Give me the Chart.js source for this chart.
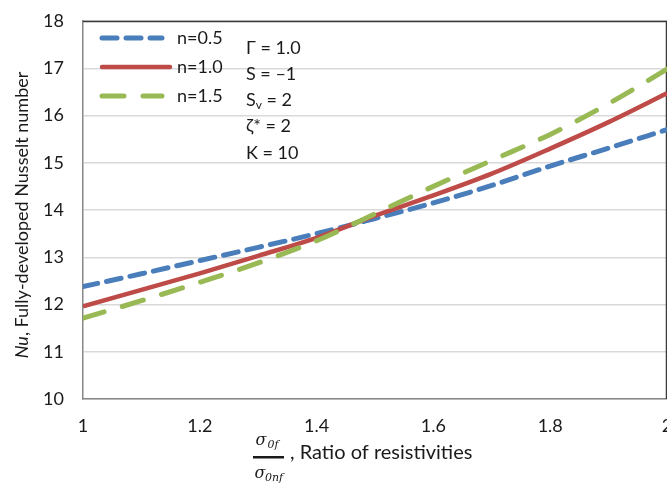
<!DOCTYPE html>
<html>
<head>
<meta charset="utf-8">
<script src="https://cdn.jsdelivr.net/npm/chart.js@4.4.1/dist/chart.umd.min.js"></script>
<style>
html,body{margin:0;padding:0;background:#fff;}
#wrap{width:667px;height:488px;position:relative;}
</style>
</head>
<body>
<div id="wrap"><canvas id="c" width="667" height="488"></canvas></div>
<script>
// ---- data ----
const ratio = [1.0, 1.1, 1.2, 1.3, 1.4, 1.5, 1.6, 1.7, 1.8, 1.9, 2.0];
const nu_n05 = [12.38, 12.65, 12.93, 13.21, 13.50, 13.82, 14.15, 14.52, 14.93, 15.31, 15.70];
const nu_n10 = [11.96, 12.31, 12.66, 13.03, 13.41, 13.88, 14.31, 14.77, 15.30, 15.86, 16.47];
const nu_n15 = [11.71, 12.08, 12.47, 12.88, 13.35, 13.92, 14.50, 15.05, 15.60, 16.25, 16.98];
const seriesLabels = ['n=0.5', 'n=1.0', 'n=1.5'];
const xTicks = [1, 1.2, 1.4, 1.6, 1.8, 2];
const yTicks = [10, 11, 12, 13, 14, 15, 16, 17, 18];
const paramLines = [['Γ = 1.0',''], ['S = –1',''], ['S','v',' = 2'], ['ζ* = 2',''], ['K = 10','']];

const FONT = 'Lato, "Open Sans", sans-serif';
const colors = ['#4a7ebb', '#be4b48', '#98b954'];
const dashes = [[15, 9], [], [22, 19]];

const toPts = arr => arr.map((v, i) => ({x: ratio[i], y: v}));

const overlay = {
  id: 'overlay',
  beforeDatasetsDraw(chart) {
    const {ctx, chartArea: a} = chart;
    ctx.save();
    ctx.strokeStyle = '#3a3a3a';
    ctx.lineWidth = 1.5;
    ctx.beginPath();
    ctx.moveTo(a.left, a.top + 0.5);
    ctx.lineTo(a.right - 0.5, a.top + 0.5);
    ctx.lineTo(a.right - 0.5, a.bottom);
    ctx.stroke();
    ctx.restore();
  },
  afterDraw(chart) {
    const {ctx} = chart;
    ctx.save();
    // legend
    const ly = [38, 67, 96];
    chart.data.datasets.forEach((ds, i) => {
      ctx.strokeStyle = ds.borderColor;
      ctx.lineWidth = ds.borderWidth;
      ctx.lineCap = 'round';
      ctx.setLineDash(ds.borderDash || []);
      ctx.beginPath();
      ctx.moveTo(102, ly[i]);
      ctx.lineTo(i === 1 ? 170 : 162, ly[i]);
      ctx.stroke();
      ctx.setLineDash([]);
      ctx.fillStyle = '#1a1a1a';
      ctx.font = '18px ' + FONT;
      ctx.textBaseline = 'middle';
      ctx.textAlign = 'left';
      ctx.fillText(ds.label, 177, ly[i]);
    });
    // parameters
    const py = [48, 74, 100, 126, 153];
    paramLines.forEach((p, i) => {
      ctx.font = '18px ' + FONT;
      ctx.textBaseline = 'middle';
      ctx.fillStyle = '#1a1a1a';
      let x = 246;
      ctx.fillText(p[0], x, py[i]);
      x += ctx.measureText(p[0]).width;
      if (p.length === 3) {
        ctx.font = '12px ' + FONT;
        ctx.fillText(p[1], x, py[i] + 5);
        x += ctx.measureText(p[1]).width;
        ctx.font = '18px ' + FONT;
        ctx.fillText(p[2], x, py[i]);
      }
    });
    // y title
    ctx.save();
    ctx.translate(22, 215);
    ctx.rotate(-Math.PI / 2);
    ctx.textBaseline = 'middle';
    const t1 = 'Nu', t2 = ', Fully-developed Nusselt number';
    ctx.font = 'italic 18px ' + FONT;
    const w1 = ctx.measureText(t1).width;
    ctx.font = '18px ' + FONT;
    const w2 = ctx.measureText(t2).width;
    let sx = -(w1 + w2) / 2;
    ctx.font = 'italic 18px ' + FONT;
    ctx.textAlign = 'left';
    ctx.fillText(t1, sx, 0);
    ctx.font = '18px ' + FONT;
    ctx.fillText(t2, sx + w1, 0);
    ctx.restore();
    // x title with fraction
    ctx.fillStyle = '#1a1a1a';
    ctx.textAlign = 'center';
    ctx.textBaseline = 'middle';
    ctx.font = 'italic 16px "DejaVu Serif", serif';
    ctx.fillText('σ', 261, 441);
    ctx.font = 'italic 11px "DejaVu Serif", serif';
    ctx.fillText('0f', 273, 445);
    ctx.fillRect(253, 456, 31, 2.5);
    ctx.font = 'italic 16px "DejaVu Serif", serif';
    ctx.fillText('σ', 260, 474);
    ctx.font = 'italic 11px "DejaVu Serif", serif';
    ctx.fillText('0nf', 274, 478);
    ctx.font = '20px ' + FONT;
    ctx.textAlign = 'left';
    ctx.fillText(', Ratio of resistivities', 290, 453);
    ctx.restore();
  }
};

new Chart(document.getElementById('c'), {
  type: 'line',
  data: {
    datasets: [
      {label: seriesLabels[0], order: 2, data: toPts(nu_n05), borderColor: colors[0], borderWidth: 5, borderDash: dashes[0], borderCapStyle: 'round', pointRadius: 0, cubicInterpolationMode: 'monotone', fill: false},
      {label: seriesLabels[1], order: 1, data: toPts(nu_n10), borderColor: colors[1], borderWidth: 4.5, borderDash: dashes[1], pointRadius: 0, cubicInterpolationMode: 'monotone', fill: false},
      {label: seriesLabels[2], order: 0, data: toPts(nu_n15), borderColor: colors[2], borderWidth: 5, borderDash: dashes[2], borderCapStyle: 'round', pointRadius: 0, cubicInterpolationMode: 'monotone', fill: false}
    ]
  },
  options: {
    responsive: false,
    animation: false,
    layout: {padding: {top: 21, right: 0, bottom: 0, left: 0}},
    plugins: {legend: {display: false}, tooltip: {enabled: false}},
    scales: {
      x: {
        type: 'linear', min: 1, max: 2,
        afterBuildTicks: s => { s.ticks = xTicks.map(v => ({value: v})); },
        afterFit: s => { s.height = 89; s.paddingLeft = 0; s.paddingRight = 0; },
        grid: {display: false, drawTicks: false},
        border: {color: '#878787', width: 1.5},
        ticks: {font: {family: FONT, size: 18}, color: '#1a1a1a', padding: 16, maxRotation: 0, autoSkip: false,
                callback: v => String(v)}
      },
      y: {
        min: 10, max: 18,
        afterBuildTicks: s => { s.ticks = yTicks.map(v => ({value: v})); },
        afterFit: s => { s.width = 83; s.paddingTop = 0; s.paddingBottom = 0; },
        grid: {color: '#d9d9d9', lineWidth: 1.5, drawTicks: false},
        border: {color: '#878787', width: 1.5},
        ticks: {font: {family: FONT, size: 18}, color: '#1a1a1a', padding: 19, callback: v => String(v)}
      }
    }
  },
  plugins: [overlay]
});
</script>
</body>
</html>
